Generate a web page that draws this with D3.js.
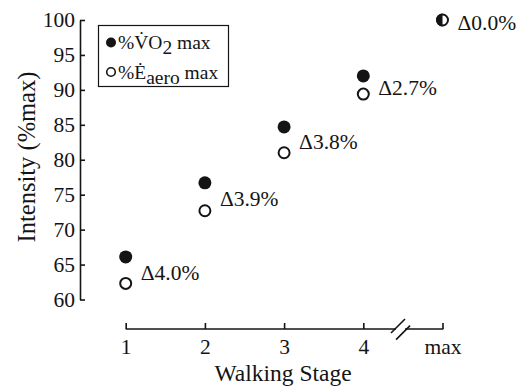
<!DOCTYPE html>
<html>
<head>
<meta charset="utf-8">
<script src="https://cdn.jsdelivr.net/npm/d3@7"></script>
<style>
  html, body { margin: 0; padding: 0; background: #fff; }
  svg { display: block; }
  text { font-family: "Liberation Serif", "Times New Roman", serif; fill: #141414; }
</style>
</head>
<body>
<svg id="chart" width="517" height="386"></svg>
<script>
// ---- data ----
const stages = [1, 2, 3, 4, 5];
const stageLabels = ["1", "2", "3", "4", "max"];
const vo2 = [66.1, 76.7, 84.7, 92.0, 100];
const eaero = [62.3, 72.7, 81.0, 89.4, 100];
const deltaLabels = ["Δ4.0%", "Δ3.9%", "Δ3.8%", "Δ2.7%", "Δ0.0%"];
const yTicks = [60, 65, 70, 75, 80, 85, 90, 95, 100];
const yDomain = [60, 100];

const ink = "#141414";
const serif = '"Liberation Serif", "Times New Roman", serif';
const svg = d3.select("#chart");

const x = d3.scaleLinear().domain([1, 5]).range([125.7, 442.5]);
const y = d3.scaleLinear().domain(yDomain).range([299.5, 20]);

// ---- y axis ----
const yAxis = d3.axisLeft(y).tickValues(yTicks).tickSizeInner(-5).tickSizeOuter(0).tickPadding(5);
const gy = svg.append("g").attr("transform", "translate(80,0)").call(yAxis);
gy.select(".domain").attr("stroke", ink).attr("stroke-width", 1.6);
gy.selectAll(".tick line").attr("stroke", ink).attr("stroke-width", 1.6);
gy.selectAll(".tick text").attr("font-size", 21.5).attr("fill", ink).style("font-family", serif);

// ---- x axis (with break) ----
const axisY = 329;
const xAxis = d3.axisBottom(x).tickValues(stages).tickFormat((d, i) => stageLabels[i])
  .tickSizeInner(-6).tickSizeOuter(0).tickPadding(10);
const gx = svg.append("g").attr("transform", `translate(0,${axisY})`).call(xAxis);
gx.select(".domain").remove();
gx.selectAll(".tick line").attr("stroke", ink).attr("stroke-width", 1.6);
gx.selectAll(".tick text").attr("font-size", 21.5).attr("fill", ink).style("font-family", serif);

const breakA = 4.4, breakB = 4.54;
const bx1 = x(breakA), bx2 = x(breakB);
svg.append("line").attr("x1", x(1)).attr("x2", bx1 + 1).attr("y1", axisY).attr("y2", axisY)
  .attr("stroke", ink).attr("stroke-width", 1.6);
svg.append("line").attr("x1", bx2 - 1).attr("x2", x(5) + 0.8).attr("y1", axisY).attr("y2", axisY)
  .attr("stroke", ink).attr("stroke-width", 1.6);
[[bx1 + 3, axisY - 3], [bx2 - 3, axisY + 3.6]].forEach(([cx, cy]) => {
  svg.append("line").attr("x1", cx - 7).attr("y1", cy + 7).attr("x2", cx + 7).attr("y2", cy - 7)
    .attr("stroke", ink).attr("stroke-width", 1.6);
});

// ---- axis titles ----
svg.append("text").attr("x", x(3) - 1).attr("y", 381).attr("text-anchor", "middle")
  .attr("font-size", 23.5).text("Walking Stage");
svg.append("text").attr("transform", "translate(35,157) rotate(-90)").attr("text-anchor", "middle")
  .attr("font-size", 24.5).text("Intensity (%max)");

// ---- points ----
const r = 6.5;
stages.forEach((s, i) => {
  const cx = x(s);
  if (i < 4) {
    svg.append("circle").attr("cx", cx).attr("cy", y(vo2[i])).attr("r", r).attr("fill", ink);
    svg.append("circle").attr("cx", cx).attr("cy", y(eaero[i])).attr("r", r - 1).attr("fill", "#fff")
      .attr("stroke", ink).attr("stroke-width", 2);
  } else {
    const cy = y(vo2[i]);
    svg.append("circle").attr("cx", cx).attr("cy", cy).attr("r", r - 1).attr("fill", "#fff")
      .attr("stroke", ink).attr("stroke-width", 2);
    const arc = d3.arc()({innerRadius: 0, outerRadius: r, startAngle: Math.PI, endAngle: 2 * Math.PI});
    svg.append("path").attr("d", arc).attr("transform", `translate(${cx},${cy})`).attr("fill", ink);
  }
  const my = (y(vo2[i]) + y(eaero[i])) / 2 + 2;
  svg.append("text").attr("x", cx + 15).attr("y", my).attr("dy", "0.35em")
    .attr("font-size", 21.5).text(deltaLabels[i]);
});

// ---- legend ----
const lg = svg.append("g");
lg.append("rect").attr("x", 98.5).attr("y", 25.5).attr("width", 130).attr("height", 61)
  .attr("fill", "#fff").attr("stroke", ink).attr("stroke-width", 1.2);
lg.append("circle").attr("cx", 111).attr("cy", 42.5).attr("r", 5).attr("fill", ink);
lg.append("circle").attr("cx", 111).attr("cy", 72).attr("r", 4.3).attr("fill", "#fff")
  .attr("stroke", ink).attr("stroke-width", 1.6);
const t1 = lg.append("text").attr("x", 118).attr("y", 48.5).attr("font-size", 19.5);
t1.append("tspan").text("%V\u0307O");
t1.append("tspan").attr("dy", 5).text("2");
t1.append("tspan").attr("dy", -5).text(" max");
const t2 = lg.append("text").attr("x", 118).attr("y", 78.5).attr("font-size", 19.5);
t2.append("tspan").text("%\u0116");
t2.append("tspan").attr("dy", 5).text("aero");
t2.append("tspan").attr("dy", -5).text(" max");
</script>
</body>
</html>
